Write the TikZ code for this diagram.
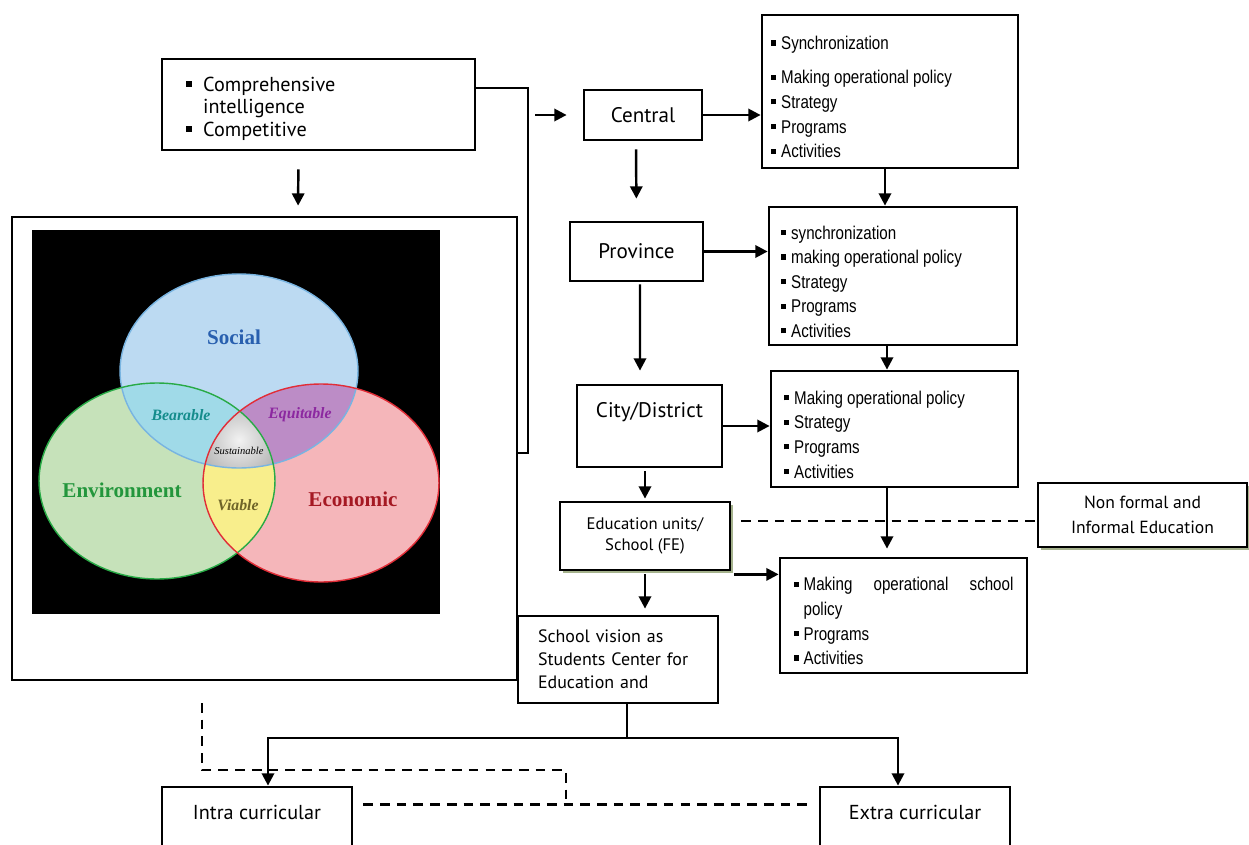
\documentclass[tikz,border=0pt]{standalone}
\usepackage{fontspec}
\setmainfont{PT Sans}
\newfontfamily\narrowfont[FakeStretch=0.82]{Liberation Sans}
\newfontfamily\serifbold{Liberation Serif}
\usetikzlibrary{positioning, arrows.meta, calc, shadows}
\definecolor{socialfill}{RGB}{188,218,242}
\definecolor{socialline}{RGB}{120,180,225}
\definecolor{envfill}{RGB}{198,226,186}
\definecolor{envline}{RGB}{40,170,70}
\definecolor{econfill}{RGB}{245,182,186}
\definecolor{econline}{RGB}{225,45,55}
\definecolor{bearfill}{RGB}{160,218,232}
\definecolor{equifill}{RGB}{188,140,198}
\definecolor{viafill}{RGB}{248,238,140}
\definecolor{socialtext}{RGB}{40,95,175}
\definecolor{envtext}{RGB}{35,150,60}
\definecolor{econtext}{RGB}{165,25,35}
\definecolor{beartext}{RGB}{20,140,140}
\definecolor{equitext}{RGB}{140,40,160}
\definecolor{viatext}{RGB}{110,100,40}
\definecolor{shadowgreen}{RGB}{165,178,140}
% square bullet with hanging indent
\newcommand{\bitem}[2][0.55em]{\par\hangindent=#1\hangafter=1\noindent\makebox[#1][l]{\rule[0.22em]{0.28em}{0.28em}}#2}
\newcommand{\nohyph}{\hyphenpenalty=10000\relax}

\begin{document}
\begin{tikzpicture}[x=0.02cm, y=-0.02cm,
    box/.style={draw, line width=1.6pt, fill=white, inner sep=0pt},
    titlebox/.style={box, font=\fontsize{12}{14}\selectfont},
    listbox/.style={box, font=\narrowfont\fontsize{10.5}{14}\selectfont\nohyph, align=justify},
    arrow/.style={-{Triangle[length=7pt, width=7pt]}, line width=1.4pt},
    link/.style={line width=1.4pt},
    dashlink/.style={line width=1.6pt, dash pattern=on 5.5pt off 4pt},
    shadowed/.style={drop shadow={shadow xshift=1.5pt, shadow yshift=-1.5pt, fill=shadowgreen, opacity=1}},
    vennlbl/.style={font=\serifbold\bfseries\fontsize{12}{14}\selectfont},
    vennsub/.style={font=\serifbold\bfseries\itshape\fontsize{9}{11}\selectfont}
]
    \clip (0,0) rectangle (1249,845);
    \fill[white] (0,0) rectangle (1249,845);

    % Left column
    \node[box, align=left, text width=5.3cm, inner xsep=0.48cm, minimum height=1.82cm,
          font=\fontsize{11.5}{12.8}\selectfont] (goals) at (318.5,104.5)
        {\bitem[0.85em]{Comprehensive\hfil\break intelligence}\bitem[0.85em]{Competitive}};
    \node[box, minimum width=10.1cm, minimum height=9.26cm] (vennbox) at (264.5,448.5) {};

    % Venn diagram
    \fill[black] (32,230) rectangle (440,614);
    \def\socialpath{(239,371) ellipse [x radius=2.38cm, y radius=1.94cm]}
    \def\envpath{(157,481) ellipse [x radius=2.36cm, y radius=1.96cm]}
    \def\econpath{(321,483) ellipse [x radius=2.36cm, y radius=1.98cm]}
    \fill[socialfill] \socialpath;
    \fill[envfill] \envpath;
    \fill[econfill] \econpath;
    \begin{scope}
        \clip \socialpath;
        \fill[bearfill] \envpath;
        \fill[equifill] \econpath;
    \end{scope}
    \begin{scope}
        \clip \envpath;
        \fill[viafill] \econpath;
    \end{scope}
    \begin{scope}
        \clip \socialpath;
        \clip \envpath;
        \clip \econpath;
        \shade[inner color=gray!10, outer color=gray!75] (239,440) circle (1.1cm);
    \end{scope}
    \draw[socialline, line width=0.8pt] \socialpath;
    \draw[envline, line width=0.8pt] \envpath;
    \draw[econline, line width=0.8pt] \econpath;
    \node[vennlbl, text=socialtext] (social) at (234,337) {Social};
    \node[vennlbl, text=envtext] (environ) at (122,490) {Environment};
    \node[vennlbl, text=econtext] (economic) at (353,499) {Economic};
    \node[vennsub, text=beartext] (bearable) at (181,415) {Bearable};
    \node[vennsub, text=equitext] (equitable) at (300,415) {Equitable};
    \node[vennsub, text=viatext] (viable) at (238,505) {Viable};
    \node[font=\serifbold\itshape\fontsize{6}{7}\selectfont] (sustain) at (239,451) {Sustainable};

    % Middle column
    \node[titlebox, minimum width=2.36cm, minimum height=1cm] (central) at (643,115) {Central};
    \node[titlebox, minimum width=2.66cm, minimum height=1.18cm] (province) at (636.5,251.5) {Province};
    \node[titlebox, minimum width=2.9cm, minimum height=1.64cm, text depth=18pt] (city) at (649.5,426) {City/District};
    \node[box, shadowed, align=center, minimum width=3.4cm, minimum height=1.36cm,
          font=\fontsize{9.5}{12}\selectfont] (eduunit) at (645,536) {Education units/\\School (FE)};
    \node[box, align=left, text width=3.2cm, inner xsep=0.4cm, minimum height=1.74cm,
          font=\fontsize{10.2}{13}\selectfont] (vision) at (618,659.5)
        {School vision as\\Students Center for\\Education and};
    \node[titlebox, font=\fontsize{11.5}{14}\selectfont, minimum width=3.8cm, minimum height=1.86cm,
          text depth=24pt] (intra) at (257,833.5) {Intra curricular};
    \node[titlebox, font=\fontsize{11.5}{14}\selectfont, minimum width=3.8cm, minimum height=1.86cm,
          text depth=24pt] (extra) at (915,833.5) {Extra curricular};

    % Right column
    \node[listbox, text width=4.76cm, inner xsep=0.18cm, minimum height=3.06cm] (centralact) at (890,91.5)
        {\bitem{Synchronization}\par\vspace{5.5pt}\bitem{Making operational policy}\bitem{Strategy}\bitem{Programs}\bitem{Activities}};
    \node[listbox, text width=4.48cm, inner xsep=0.24cm, minimum height=2.76cm] (provact) at (893,276)
        {\bitem{synchronization}\bitem{making operational policy}\bitem{Strategy}\bitem{Programs}\bitem{Activities}};
    \node[listbox, text width=4.42cm, inner xsep=0.26cm, minimum height=2.32cm] (cityact) at (894.5,429)
        {\bitem{Making operational policy}\bitem{Strategy}\bitem{Programs}\bitem{Activities}};
    \node[listbox, text width=4.4cm, inner xsep=0.27cm, minimum height=2.3cm] (schoolact) at (903.5,615.5)
        {\bitem{Making operational school policy}\bitem{Programs}\bitem{Activities}};
    \node[box, shadowed, align=center, minimum width=4.18cm, minimum height=1.28cm,
          font=\fontsize{10}{14}\selectfont] (nonformal) at (1142.5,515) {Non formal and\\Informal Education};

    % Connectors
    \coordinate (bend) at (528,88);
    \draw[link] ($(goals.east)+(0,-16.5)$) -- (bend) |- ($(vennbox.east)+(0,4.5)$);
    \draw[arrow, shorten <=0.14cm, shorten >=0.32cm] (bend |- central.west) -- (central.west);
    \draw[arrow, shorten <=0.36cm, shorten >=0.2cm] ($(goals.south)+(-20,0)$) -- ($(vennbox.north)+(33.5,0)$);
    \draw[arrow] (central.east) -- (central.east -| centralact.west);
    \draw[arrow, shorten <=0.16cm, shorten >=0.44cm] ($(central.south)+(-7,0)$) -- (province.north);
    \draw[arrow] (province.east) -- (province.east -| provact.west);
    \draw[arrow, shorten <=0.04cm, shorten >=0.26cm] ($(province.south)+(3.5,0)$) -- ($(city.north)+(-9.5,0)$);
    \draw[arrow] (city.east) -- (city.east -| cityact.west);
    \draw[arrow, shorten <=0.06cm, shorten >=0.04cm] ($(city.south)+(-4.5,0)$) -- (eduunit.north);
    \draw[arrow, shorten <=0.06cm, shorten >=0.12cm] (eduunit.south) -- ($(vision.north)+(27,0)$);
    \draw[arrow] ($(centralact.south)+(-5,0)$) -- ($(provact.north)+(-8,0)$);
    \draw[arrow] ($(provact.south)+(-6,0)$) -- ($(cityact.north)+(-7.5,0)$);
    \draw[arrow, shorten >=0.16cm] ($(cityact.south)+(-7.5,0)$) -- ($(schoolact.north)+(-16.5,0)$);
    \draw[arrow] ($(eduunit.south east)+(3,3)$) -- ($(eduunit.south east -| schoolact.west)+(0,3)$);
    \draw[dashlink, shorten <=0.2cm] ($(eduunit.east)+(0,-15)$) -- ($(eduunit.east -| nonformal.west)+(0,-15)$);

    % Curricular branches
    \coordinate (fork) at (627,738);
    \draw[link] (vision.south -| fork) -- (fork);
    \draw[arrow] (fork) -| ($(intra.north)+(11,0)$);
    \draw[arrow] (fork) -| ($(extra.north)+(-17,0)$);
    \coordinate (dstart) at (202,703);
    \coordinate (dturn) at (566,770);
    \draw[dashlink] (dstart) |- (dturn) -- ++(0,36);
    \draw[dashlink] ($(intra.north east)+(10,19)$) -- ($(extra.north west)+(-6,19)$);
\end{tikzpicture}
\end{document}
